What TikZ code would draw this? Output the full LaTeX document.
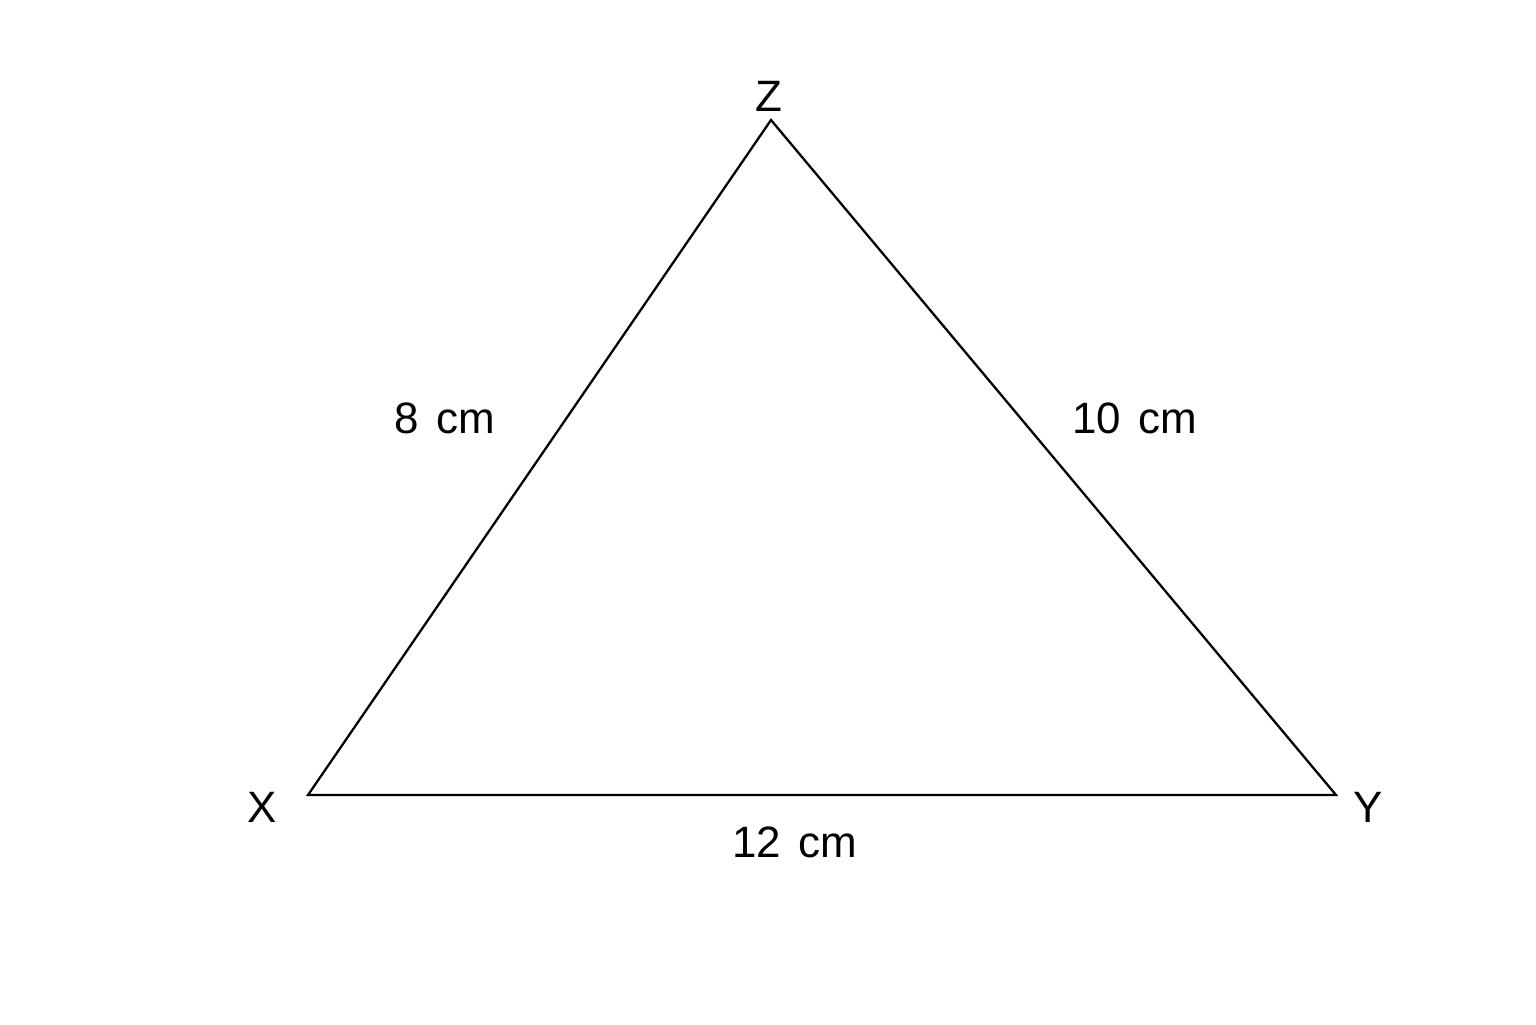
\documentclass[tikz,border=0pt]{standalone}
\usepackage{fontspec}
\setmainfont{Liberation Sans}
\usetikzlibrary{positioning}

\begin{document}
\begin{tikzpicture}
        [lbl/.style={font=\fontsize{12.5}{14}\selectfont, inner sep=1pt},
         side/.style={line width=0.65pt, line join=miter}]
        \useasboundingbox (0,0) rectangle (15.36,10.24);
        \coordinate (X) at (3.08,2.29);
        \coordinate (Y) at (13.36,2.29);
        \coordinate (Z) at (7.71,9.04);

        \node[lbl] (lX) at (2.62,2.17) {X};
        \node[lbl] (lY) at (13.68,2.17) {Y};
        \node[lbl] (lZ) at (7.69,9.28) {Z};

        \draw[side] (X) -- (Y) -- (Z) -- cycle;

        \node[lbl] (sXZ) at (4.45,6.06) {8\hspace{0.4em}cm};
        \node[lbl] (sYZ) at (11.35,6.06) {10\hspace{0.4em}cm};
        \node[lbl] (sXY) at (7.95,1.82) {12\hspace{0.4em}cm};
    \end{tikzpicture}
\end{document}
